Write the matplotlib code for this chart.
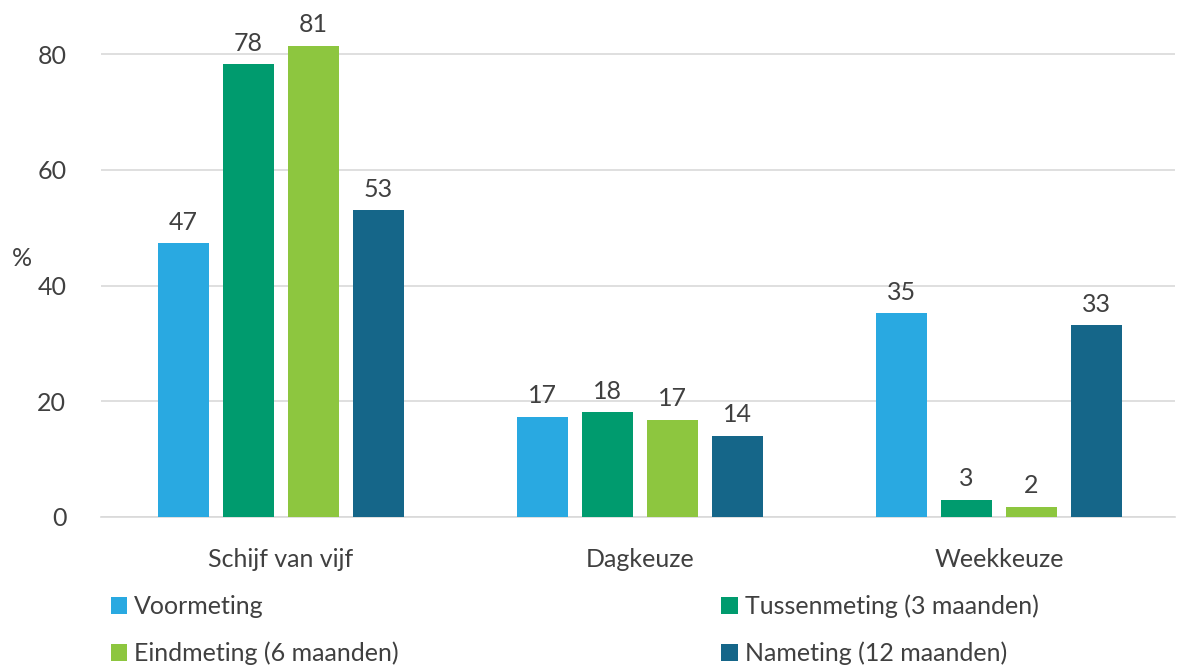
import numpy as np
import matplotlib.pyplot as plt

plt.rcParams['font.family'] = ['Lato', 'DejaVu Sans']

# Data
categories = ['Schijf van vijf', 'Dagkeuze', 'Weekkeuze']
series = ['Voormeting', 'Tussenmeting (3 maanden)',
          'Eindmeting (6 maanden)', 'Nameting (12 maanden)']
voormeting = [47.3, 17.3, 35.2]
tussenmeting = [78.2, 18.1, 2.9]
eindmeting = [81.4, 16.8, 1.7]
nameting = [53.0, 14.0, 33.1]
values = [voormeting, tussenmeting, eindmeting, nameting]
colors = ['#29a9e1', '#009b6e', '#8dc63f', '#156689']

text_color = '#404040'
fs = 18

fig = plt.figure(figsize=(11.82, 6.70), dpi=100)
ax = fig.add_axes([101/1182, (670-517)/670, (1175-101)/1182, (517-2)/670])

x = np.arange(len(categories))
width = 0.142
step = 0.181
handles = []
for i, (name, vals, c) in enumerate(zip(series, values, colors)):
    bars = ax.bar(x + (i - 1.5)*step, vals, width, color=c, label=name, zorder=3)
    ax.bar_label(bars, labels=[f'{v:.0f}' for v in vals], padding=7,
                 fontsize=fs, color=text_color)
    handles.append(bars)

ax.set_xlim(-0.5, 2.49)
ax.set_ylim(0, 89)
ax.set_yticks([0, 20, 40, 60, 80])
ax.set_xticks(x)
ax.set_xticklabels(categories)
ax.tick_params(axis='both', length=0, labelsize=fs, colors=text_color)
ax.tick_params(axis='x', pad=22)
ax.tick_params(axis='y', pad=25)
ax.grid(axis='y', color='#d9d9d9', linewidth=1.2, zorder=0)
for s in ['left', 'right', 'top']:
    ax.spines[s].set_visible(False)
ax.spines['bottom'].set_color('#d9d9d9')
ax.spines['bottom'].set_linewidth(1.2)

fig.text(22/1182, 1 - 258/670, '%', fontsize=fs, color=text_color,
         ha='center', va='center')

# legend fills row by row in the reference
order = [0, 2, 1, 3]
leg = fig.legend([handles[i] for i in order], [series[i] for i in order],
                 loc='upper left', bbox_to_anchor=(88/1182, 1 - 572/670),
                 ncol=2, frameon=False, fontsize=fs, handlelength=0.65,
                 handleheight=0.65, handletextpad=0.3, columnspacing=12.9,
                 labelspacing=0.93)
for t in leg.get_texts():
    t.set_color(text_color)

fig.savefig('out.png', dpi=100)
